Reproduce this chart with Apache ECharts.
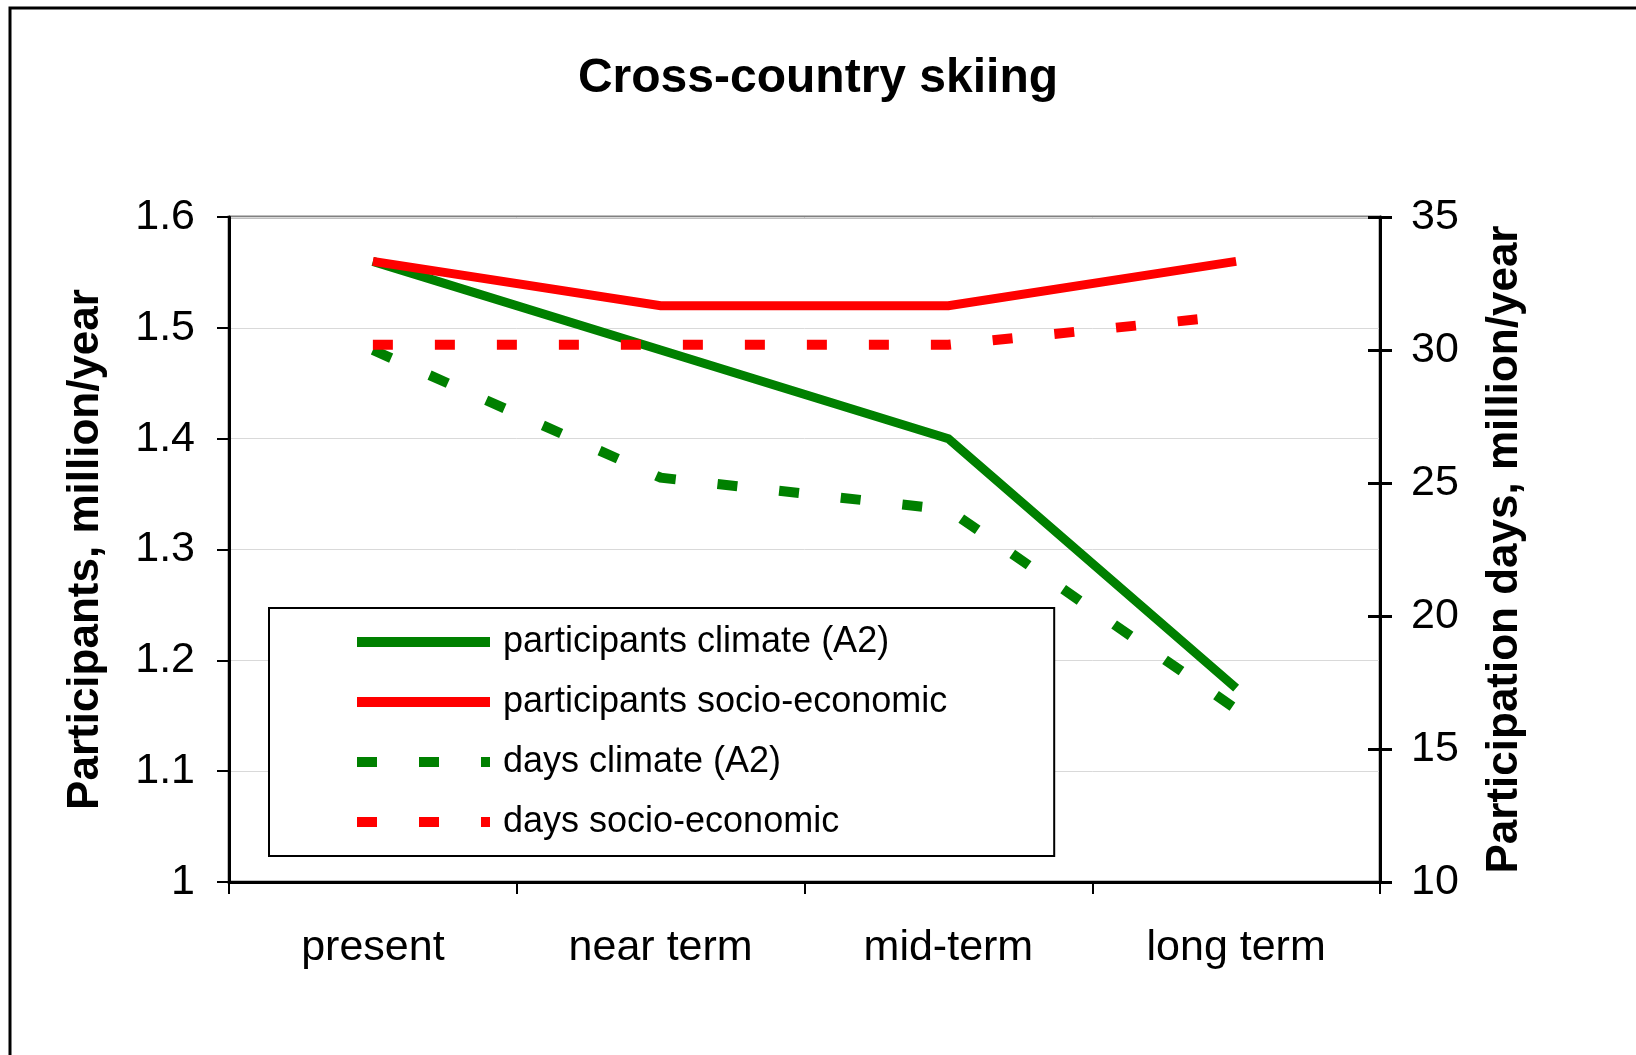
<!DOCTYPE html>
<html>
<head>
<meta charset="utf-8">
<title>Cross-country skiing</title>
<script src="https://cdn.jsdelivr.net/npm/echarts@6/dist/echarts.min.js"></script>
<style>
  html, body { margin: 0; padding: 0; background: #fff; }
  #chart { width: 1636px; height: 1055px; }
</style>
</head>
<body>
<div id="chart"></div>
<script>
// categories and values
const categories = ["present", "near term", "mid-term", "long term"];
const participantsClimate = [1.56, 1.48, 1.40, 1.175];
const participantsSocio = [1.56, 1.52, 1.52, 1.56];
const daysClimate = [30.0, 25.2, 24.0, 16.5];
const daysSocio = [30.2, 30.2, 30.2, 31.3];
const seriesNames = [
  "participants climate (A2)",
  "participants socio-economic",
  "days climate (A2)",
  "days socio-economic"
];

const FONT = "Liberation Sans, Arial, sans-serif";
const GREEN = "#008000";
const RED = "#FF0000";

var chart = echarts.init(document.getElementById("chart"));

var option = {
  animation: false,
  backgroundColor: "#fff",
  textStyle: { fontFamily: FONT, color: "#000" },
  title: {
    text: "Cross-country skiing",
    left: "center",
    top: 55,
    padding: 0,
    textStyle: { fontFamily: FONT, fontSize: 48, fontWeight: "bold", color: "#000" }
  },
  // outer frame of the picture
  graphic: [
    {
      type: "rect",
      shape: { x: 10, y: 8, width: 1700, height: 1200 },
      style: { fill: "none", stroke: "#000", lineWidth: 3 },
      silent: true,
      z: 100
    }
  ],
  grid: {
    left: 229,
    right: 256,
    top: 217,
    bottom: 173,
    show: true,
    borderColor: "#808080",
    borderWidth: 3,
    backgroundColor: "#fff"
  },
  legend: {
    orient: "vertical",
    left: 269,
    top: 608,
    padding: [16, 107, 16, 83],
    borderColor: "#000",
    borderWidth: 2,
    backgroundColor: "#fff",
    itemWidth: 133,
    itemHeight: 10,
    itemGap: 24,
    itemStyle: { opacity: 0 }, // hide the symbol, keep the line sample
    lineStyle: { width: 10 },
    textStyle: {
      fontFamily: FONT,
      fontSize: 36,
      lineHeight: 36,
      color: "#000",
      padding: [0, 0, 0, 8]
    },
    selectedMode: false,
    data: seriesNames
  },
  xAxis: {
    type: "category",
    data: categories,
    boundaryGap: true,
    axisLine: { lineStyle: { color: "#000", width: 3 } },
    axisTick: { show: true, length: 12, lineStyle: { color: "#000", width: 2 } },
    axisLabel: { fontFamily: FONT, fontSize: 43, color: "#000", margin: 45 },
    splitLine: { show: false }
  },
  yAxis: [
    {
      type: "value",
      position: "left",
      min: 1,
      max: 1.6,
      interval: 0.1,
      name: "Participants, million/year",
      nameLocation: "middle",
      nameRotate: 90,
      nameGap: 121,
      nameTextStyle: { fontFamily: FONT, fontSize: 44, fontWeight: "bold", color: "#000" },
      axisLine: { show: true, lineStyle: { color: "#000", width: 3 } },
      axisTick: { show: true, length: 12, lineStyle: { color: "#000", width: 2 } },
      axisLabel: {
        fontFamily: FONT,
        fontSize: 43,
        color: "#000",
        margin: 34,
        formatter: function (v) { return v === 1 ? "1" : v.toFixed(1); }
      },
      splitLine: { show: true, lineStyle: { color: "#d9d9d9", width: 1 } }
    },
    {
      type: "value",
      position: "right",
      min: 10,
      max: 35,
      interval: 5,
      name: "Participation days, million/year",
      nameLocation: "middle",
      nameRotate: 90,
      nameGap: 103,
      nameTextStyle: { fontFamily: FONT, fontSize: 44, fontWeight: "bold", color: "#000" },
      axisLine: { show: true, lineStyle: { color: "#000", width: 3 } },
      axisTick: { show: true, length: 12, lineStyle: { color: "#000", width: 3 } },
      axisLabel: { fontFamily: FONT, fontSize: 43, color: "#000", margin: 31 },
      splitLine: { show: false }
    },
    {
      // inner half of the crossing ticks on the right axis
      type: "value",
      position: "right",
      min: 10,
      max: 35,
      interval: 5,
      axisLine: { show: false },
      axisTick: { show: true, inside: true, length: 12, lineStyle: { color: "#000", width: 3 } },
      axisLabel: { show: false },
      splitLine: { show: false }
    }
  ],
  series: [
    {
      name: seriesNames[0],
      type: "line",
      yAxisIndex: 0,
      data: participantsClimate,
      symbol: "none",
      color: GREEN,
      lineStyle: { color: GREEN, width: 9, join: "miter" }
    },
    {
      name: seriesNames[1],
      type: "line",
      yAxisIndex: 0,
      data: participantsSocio,
      symbol: "none",
      color: RED,
      lineStyle: { color: RED, width: 9, join: "miter" }
    },
    {
      name: seriesNames[2],
      type: "line",
      yAxisIndex: 1,
      data: daysClimate,
      symbol: "none",
      color: GREEN,
      lineStyle: { color: GREEN, width: 10, type: [20, 42], cap: "butt", join: "miter" }
    },
    {
      name: seriesNames[3],
      type: "line",
      yAxisIndex: 1,
      data: daysSocio,
      symbol: "none",
      color: RED,
      lineStyle: { color: RED, width: 10, type: [20, 42], cap: "butt", join: "miter" }
    }
  ]
};

chart.setOption(option);
</script>
</body>
</html>
